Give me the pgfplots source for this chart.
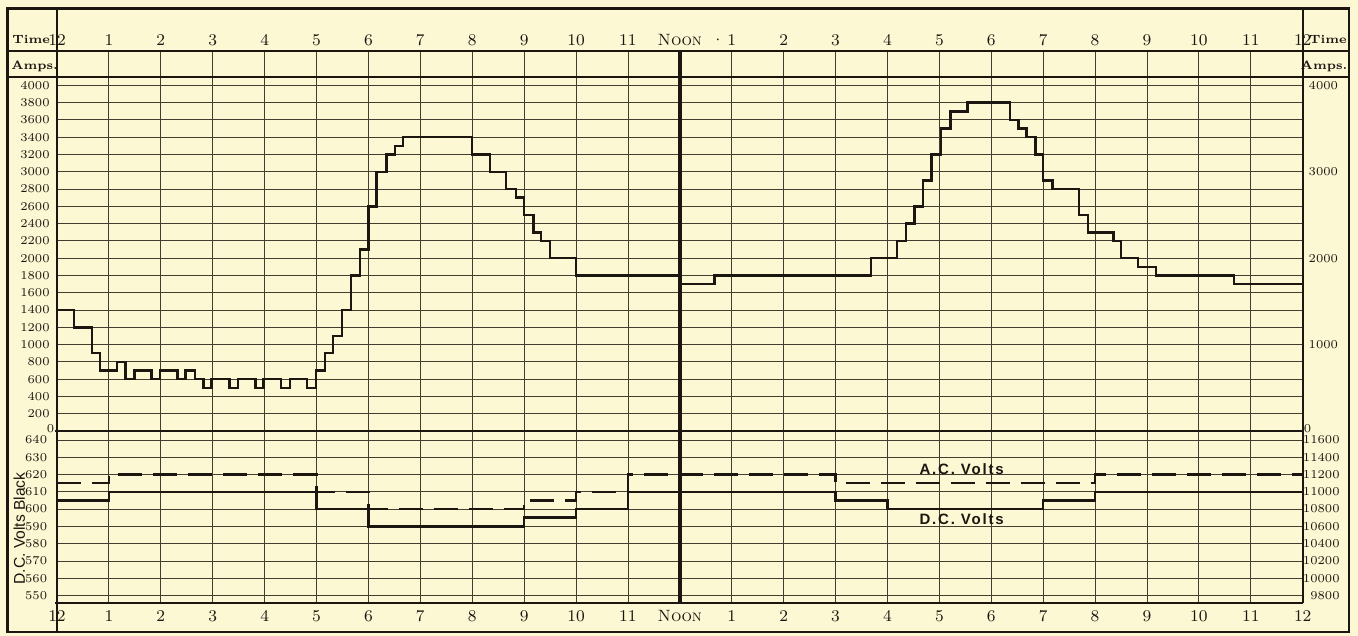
\documentclass[border=0pt]{standalone}
\usepackage{fontspec}
\newfontfamily\sansf{Liberation Sans}
\newfontfamily\sansw[LetterSpace=12]{Liberation Sans}
\usepackage{pgfplots}
\usepackage{pgfplotstable}
\pgfplotsset{compat=1.18}
\pgfkeys{/pgf/number format/.cd,1000 sep={}}
\definecolor{paper}{RGB}{252,248,212}
\definecolor{ink}{RGB}{28,22,16}
\definecolor{gridc}{RGB}{70,60,48}

% Amperes (step values, held until the next time), time in hours after midnight
\pgfplotstableread{
h A
0 1400
0.33 1200
0.67 900
0.83 700
1.16 800
1.32 600
1.49 700
1.82 600
1.98 700
2.32 600
2.48 700
2.66 600
2.82 500
2.98 600
3.32 500
3.49 600
3.82 500
3.98 600
4.32 500
4.49 600
4.82 500
4.99 700
5.16 900
5.32 1100
5.49 1400
5.66 1800
5.84 2100
6.0 2600
6.16 3000
6.35 3200
6.51 3300
6.67 3400
8.0 3200
8.34 3000
8.65 2800
8.84 2700
9.0 2500
9.18 2300
9.32 2200
9.5 2000
10.0 1800
12.0 1700
12.67 1800
15.68 2000
16.18 2200
16.36 2400
16.52 2600
16.68 2900
16.85 3200
17.03 3500
17.21 3700
17.54 3800
18.36 3600
18.52 3500
18.68 3400
18.85 3200
19.0 2900
19.18 2800
19.69 2500
19.86 2300
20.35 2200
20.5 2000
20.83 1900
21.17 1800
22.68 1700
24 1700
}\ampdata

\pgfplotstableread{
h V
0 605
1 610
5 600
6 590
9 595
10 600
11 610
15 605
16 600
19 605
20 610
24 610
}\dcdata

\pgfplotstableread{
h V
0 11100
1 11200
5 11000
6 10800
9 10900
10 11000
11 11200
15 11100
20 11200
24 11200
}\acdata

\pgfplotsset{
  base/.style={
    scale only axis, width=622.85pt, anchor=south west,
    xmin=0, xmax=24, xtick={0,...,24},
    axis line style={draw=none}, tick style={draw=none},
    major grid style={gridc, line width=0.45pt},
    scaled ticks=false,
  },
  toplabels/.style={
    xticklabel pos=upper,
    xticklabels={12,1,2,3,4,5,6,7,8,9,10,11,\textsc{Noon},\llap{·\,}1,2,3,4,5,6,7,8,9,10,11,12},
    xticklabel style={font=\fontsize{8.2}{9}\selectfont, anchor=base, inner sep=0pt, yshift=2.65pt, text=ink},
  },
  bottomlabels/.style={
    xticklabel pos=lower,
    xticklabels={12,1,2,3,4,5,6,7,8,9,10,11,\textsc{Noon},1,2,3,4,5,6,7,8,9,10,11,12},
    xticklabel style={font=\fontsize{8.2}{9}\selectfont, anchor=base, inner sep=0pt, yshift=-9.25pt, text=ink},
  },
}

\begin{document}
\begin{tikzpicture}[x=1pt,y=1pt]
\path[use as bounding box] (0,0) rectangle (679,318);
\fill[paper] (0,0) rectangle (679,318);

% ---- Amperes panel ----
\begin{axis}[base, toplabels, at={(28.5pt,102.5pt)}, height=190pt,
  ymin=0, ymax=4398.1, ytick={200,400,...,4000}, grid=major,
  yticklabel style={font=\fontsize{6.2}{7}\selectfont, anchor=east, inner sep=0pt, xshift=-3.5pt, text=ink}]
\addplot[const plot, ink, line width=1.25pt] table[x=h, y=A] {\ampdata};
\end{axis}

% right-hand ampere scale
\begin{axis}[base, at={(28.5pt,102.5pt)}, height=190pt,
  ymin=0, ymax=4398.1, xtick=\empty, ytick={1000,2000,3000,4000},
  yticklabel pos=right,
  yticklabel style={font=\fontsize{6.2}{7}\selectfont, anchor=west, inner sep=0pt, xshift=2.8pt, text=ink}]
\end{axis}

% ---- Volts panel (D.C.) ----
\begin{axis}[base, bottomlabels, at={(28.5pt,16.5pt)}, height=86pt,
  ymin=545.67, ymax=645.21, ytick={550,560,...,640}, grid=major,
  yticklabel style={font=\fontsize{6.2}{7}\selectfont, anchor=east, inner sep=0pt, xshift=-4.75pt, text=ink}]
\addplot[const plot, ink, line width=1.3pt] table[x=h, y=V] {\dcdata};
\end{axis}

% ---- A.C. volts (right scale) ----
\begin{axis}[base, at={(28.5pt,16.5pt)}, height=86pt,
  ymin=9713.4, ymax=11704.2, xtick=\empty, ytick={9800,10000,...,11600},
  yticklabel pos=right,
  yticklabel style={font=\fontsize{6.3}{7}\selectfont, anchor=east, inner sep=0pt, xshift=18.65pt, text=ink}]
\addplot[const plot, ink, line width=1.3pt, dash pattern=on 12pt off 5.5pt] table[x=h, y=V] {\acdata};
\end{axis}

% ---- frame and ruling ----
\draw[ink, line width=1.4pt] (3.75,2) rectangle (674.5,313.75);
\draw[ink, line width=1pt] (3.75,292.5) -- (674.5,292.5);
\draw[ink, line width=1.1pt] (3.75,279.5) -- (674.5,279.5);
\draw[ink, line width=1pt] (28.5,313.75) -- (28.5,2);
\draw[ink, line width=1pt] (651.35,313.75) -- (651.35,16.5);
\draw[ink, line width=1pt] (27.5,102.5) -- (651.35,102.5);
\draw[ink, line width=1pt] (27.5,16.5) -- (651.35,16.5);
\draw[ink, line width=2pt] (339.925,292.5) -- (339.925,16.5);

% ---- header texts ----
\node[anchor=base, inner sep=0pt, text=ink, font=\fontsize{6}{7}\selectfont\bfseries] at (15.6,296.2) {Time};
\node[anchor=base, inner sep=0pt, text=ink, font=\fontsize{6}{7}\selectfont\bfseries] at (17.3,283.4) {Amps.};
\node[anchor=base, inner sep=0pt, text=ink, font=\fontsize{6}{7}\selectfont\bfseries] at (664,296.2) {Time};
\node[anchor=base, inner sep=0pt, text=ink, font=\fontsize{6}{7}\selectfont\bfseries] at (662,283.4) {Amps.};
\node[inner sep=0pt, text=ink, font=\fontsize{6}{7}\selectfont] at (25.25,103.6) {0};
\node[inner sep=0pt, text=ink, font=\fontsize{6}{7}\selectfont] at (653.75,103.9) {0};
\node[rotate=90, inner sep=0pt, text=ink, font=\fontsize{7.8}{9}\sansf] at (9.6,53.8) {D.C. Volts Black};
\node[inner sep=0pt, text=ink, font=\fontsize{7.5}{9}\sansw\bfseries] at (480.8,83.2) {A.C. Volts};
\node[inner sep=0pt, text=ink, font=\fontsize{7.5}{9}\sansw\bfseries] at (480.8,58.4) {D.C. Volts};
\end{tikzpicture}
\end{document}
